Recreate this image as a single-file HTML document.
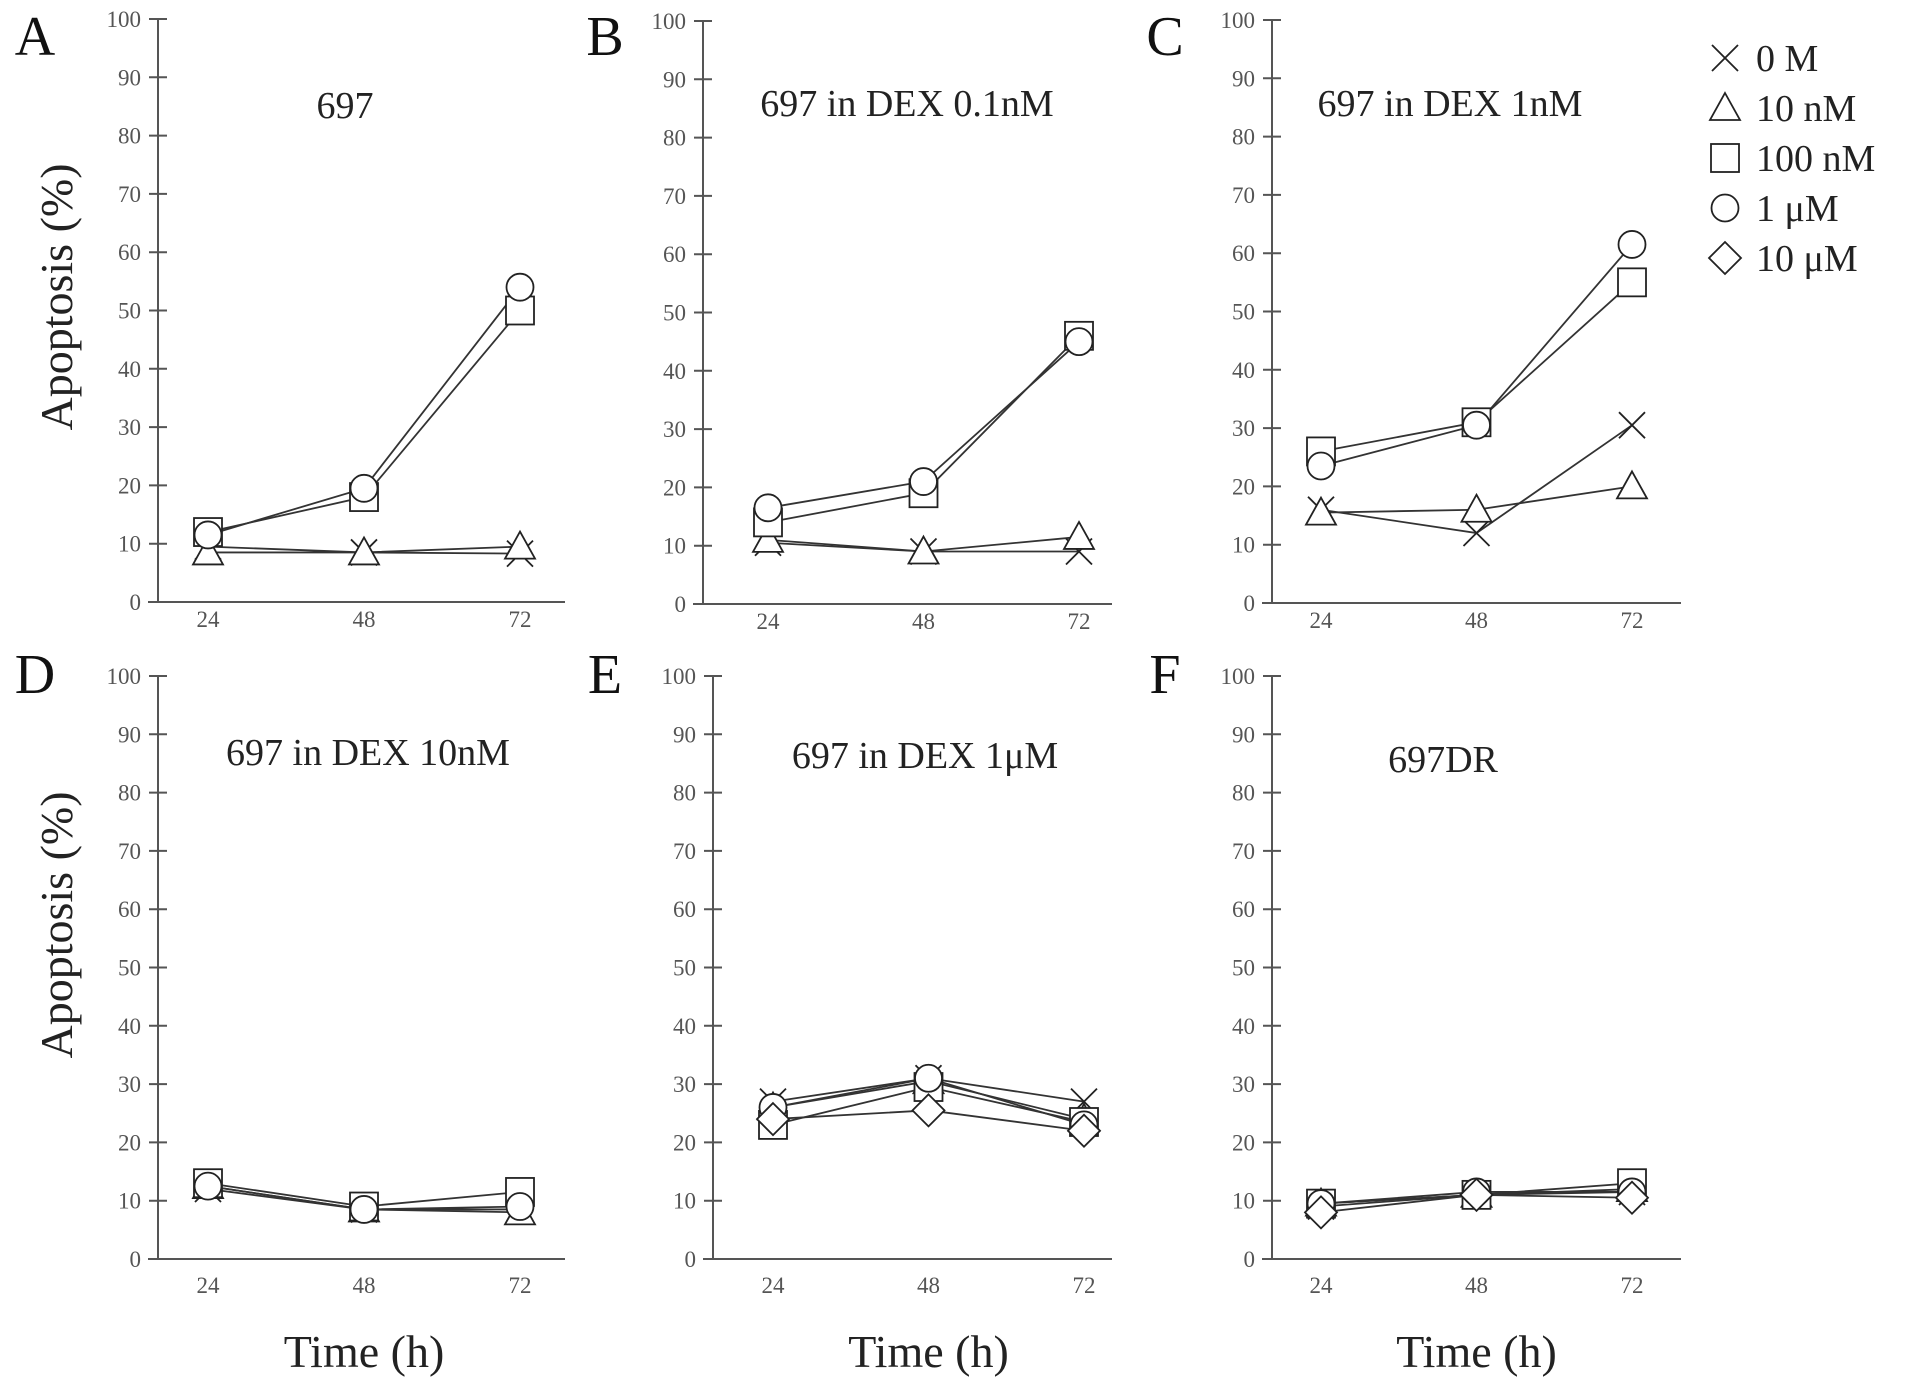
<!DOCTYPE html>
<html><head><meta charset="utf-8"><style>
html,body{margin:0;padding:0;background:#fff;}
svg{display:block;font-family:"Liberation Serif",serif;}
</style></head><body>
<svg id="fig" width="1913" height="1384" viewBox="0 0 1913 1384" xmlns="http://www.w3.org/2000/svg"></svg>
<script>
// ---- data ----
const timepoints = [24, 48, 72];
const yTicks = [0,10,20,30,40,50,60,70,80,90,100];
const seriesNames = ["0 M","10 nM","100 nM","1 μM","10 μM"];
const panelLetters = ["A","B","C","D","E","F"];
const panelTitles = ["697","697 in DEX 0.1nM","697 in DEX 1nM","697 in DEX 10nM","697 in DEX 1μM","697DR"];
// values per panel, per series [0M, 10nM, 100nM, 1uM, 10uM] (null = not shown)
const panelA = [[9.5,8.5,8.3],[8.5,8.5,9.5],[12,18,50],[11.5,19.5,54],null];
const panelB = [[10.5,9,9],[11,9,11.5],[14,19,46],[16.5,21,45],null];
const panelC = [[16,12,30.5],[15.5,16,20],[26,31,55],[23.5,30.5,61.5],null];
const panelD = [[12,8.5,8.5],[12.5,8.5,8],[13,9,11.5],[12.5,8.5,9],null];
const panelE = [[27,31,27],[26,30.5,24],[23,29.5,23.5],[26,31,23],[24,25.5,22]];
const panelF = [[9,11,11.5],[9.5,11,12],[9.5,11,13],[9.5,11.5,11.5],[8,11,10.5]];
const panelData = [panelA,panelB,panelC,panelD,panelE,panelF];

// ---- layout ----
const layout = [
 {ax:158,x0:208,x2:520,xe:565,y0:602,lx:35,ly:55,tx:345,tl:25},
 {ax:703,x0:768,x2:1079,xe:1112,y0:604,lx:605,ly:55,tx:907,tl:25},
 {ax:1272,x0:1321,x2:1632,xe:1681,y0:603,lx:1165,ly:55,tx:1450,tl:25},
 {ax:158,x0:208,x2:520,xe:565,y0:1259,lx:35,ly:693,tx:368,tl:34},
 {ax:713,x0:773,x2:1084,xe:1112,y0:1259,lx:605,ly:693,tx:925,tl:34},
 {ax:1272,x0:1321,x2:1632,xe:1681,y0:1259,lx:1165,ly:693,tx:1443,tl:34}
];
const titleY = [118,116,116,765,768,772];
const span = 583;
const NS="http://www.w3.org/2000/svg";
const svg=document.getElementById('fig');
function mk(tag,attrs,parent){const e=document.createElementNS(NS,tag);for(const k in attrs)e.setAttribute(k,attrs[k]);(parent||svg).appendChild(e);return e;}

function marker(g,type,x,y){
  const st={fill:"#fff",stroke:"#222","stroke-width":1.8};
  let m;
  if(type===0){
    m=mk('path',{d:`M${x-13},${y-13}L${x+13},${y+13}M${x-13},${y+13}L${x+13},${y-13}`,stroke:"#222","stroke-width":1.8,fill:"none"},g);
  }else if(type===1){
    m=mk('polygon',Object.assign({points:`${x},${y-15} ${x+15},${y+12} ${x-15},${y+12}`},st),g);
  }else if(type===2){
    m=mk('rect',Object.assign({x:x-14,y:y-14,width:28,height:28},st),g);
  }else if(type===3){
    m=mk('circle',Object.assign({cx:x,cy:y,r:13.5},st),g);
  }else{
    m=mk('polygon',Object.assign({points:`${x},${y-16} ${x+16},${y} ${x},${y+16} ${x-16},${y}`},st),g);
  }
  
  
}

layout.forEach((L,p)=>{
  const g=mk('g',{});
  
  
  const xs=t=>L.x0+(L.x2-L.x0)*(t-timepoints[0])/(timepoints[2]-timepoints[0]);
  const ys=v=>L.y0-span*v/100;
  const ya=mk('line',{x1:L.ax,y1:ys(100),x2:L.ax,y2:L.y0,stroke:"#555","stroke-width":2},g);
  
  
  const xa=mk('line',{x1:L.ax-10,y1:L.y0,x2:L.xe,y2:L.y0,stroke:"#555","stroke-width":2},g);
  
  
  yTicks.forEach(v=>{
    mk('line',{x1:L.ax-9,y1:ys(v),x2:L.ax+9,y2:ys(v),stroke:"#555","stroke-width":2},g);
    const t=mk('text',{x:L.ax-17,y:ys(v)+8,"text-anchor":"end","font-size":23,fill:"#555"},g);
    t.textContent=v;
    
    
  });
  timepoints.forEach(tp=>{
    const t=mk('text',{x:xs(tp),y:L.y0+L.tl,"text-anchor":"middle","font-size":23,fill:"#555"},g);
    t.textContent=tp;
    
    
  });
  const lt=mk('text',{x:L.lx,y:L.ly,"text-anchor":"middle","font-size":56,fill:"#111"},g);
  lt.textContent=panelLetters[p];
  
  
  const tt=mk('text',{x:L.tx,y:titleY[p],"text-anchor":"middle","font-size":38,fill:"#222"},g);
  tt.textContent=panelTitles[p];
  
  
  const data=panelData[p];
  data.forEach((s,i)=>{
    if(!s)return;
    const pts=s.map((v,j)=>xs(timepoints[j])+','+ys(v)).join(' ');
    const pl=mk('polyline',{points:pts,fill:"none",stroke:"#333","stroke-width":1.8},g);
    
    
  });
  data.forEach((s,i)=>{
    if(!s)return;
    s.forEach((v,j)=>marker(g,i,xs(timepoints[j]),ys(v)));
  });
  if(p>=3){
    const xl=mk('text',{x:(L.x0+L.x2)/2,y:1367,"text-anchor":"middle","font-size":46,fill:"#222"},g);
    xl.textContent="Time (h)";
    
    
  }
  if(p===0||p===3){
    const cy=p===0?297:925;
    const yl=mk('text',{x:72,y:cy,"text-anchor":"middle","font-size":46,fill:"#222",transform:`rotate(-90 72 ${cy})`},g);
    yl.textContent="Apoptosis (%)";
    
    
  }
});
const lg=mk('g',{});


seriesNames.forEach((n,i)=>{
  const y=58+i*50;
  marker(lg,i,1725,y);
  const t=mk('text',{x:1756,y:y+13,"font-size":38,fill:"#222"},lg);
  t.textContent=n;
  
  
});
</script>
</body></html>
